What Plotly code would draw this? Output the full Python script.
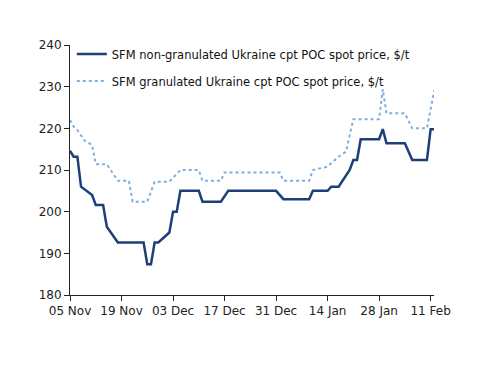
import plotly.graph_objects as go
import pandas as pd

start = pd.Timestamp("2018-11-05")

dark_days = [0, 1, 2, 3, 6, 7, 9, 10, 13, 20, 21, 22, 23, 24, 27, 28, 29, 30, 35, 36, 41, 43,
             56, 58, 65, 66, 70, 71, 73, 76, 77, 78, 79, 84, 85, 86, 91, 93, 97, 98, 99]
dark_vals = [214.6, 213.2, 213.2, 206, 204, 201.6, 201.6, 196.4, 192.6, 192.6, 187.4, 187.4,
             192.6, 192.6, 195, 200, 200, 205, 205, 202.4, 202.4, 205,
             205, 203, 203, 205, 205, 206, 206, 210, 212.4, 212.4, 217.4, 217.4, 219.8,
             216.4, 216.4, 212.4, 212.4, 219.8, 219.8]

light_days = [0, 1, 2, 4, 6, 7, 10, 13, 16, 17, 21, 23, 27, 29, 30, 35, 36, 41, 42,
              57, 58, 65, 66, 70, 73, 75, 77, 84, 85, 86, 91, 93, 97, 99]
light_vals = [222, 220.4, 219.6, 217, 216, 211.4, 211.4, 207.4, 207.4, 202.4, 202.4, 207.2,
              207.2, 209, 210, 210, 207.4, 207.4, 209.4,
              209.4, 207.4, 207.4, 210, 210.8, 213.2, 214.4, 222.2, 222.2, 229.4, 223.6,
              223.6, 220, 220, 229.2]

dark_dates = [start + pd.Timedelta(days=d) for d in dark_days]
light_dates = [start + pd.Timedelta(days=d) for d in light_days]

y_ticks = [180, 190, 200, 210, 220, 230, 240]

fig = go.Figure()
fig.add_trace(go.Scatter(
    x=dark_dates, y=dark_vals, mode="lines", legendgroup="a",
    name="SFM non-granulated Ukraine cpt POC spot price, $/t",
    line=dict(color="#1d3f7a", width=2.5)))
fig.add_trace(go.Scatter(
    x=light_dates, y=light_vals, mode="lines", legendgroup="b",
    name="SFM granulated Ukraine cpt POC spot price, $/t",
    line=dict(color="#7eaee2", width=2, dash="dot")))

axis_font = dict(family="DejaVu Sans", size=12, color="#222")
fig.update_layout(
    width=500, height=386,
    margin=dict(l=62, r=74, t=37, b=99),
    paper_bgcolor="white", plot_bgcolor="white",
    font=axis_font,
    showlegend=True,
    legend=dict(x=0.005, y=1.022, xanchor="left", yanchor="top",
                bgcolor="rgba(0,0,0,0)", itemwidth=30,
                font=dict(family="DejaVu Sans", size=11.5, color="#111"),
                tracegroupgap=8),
    xaxis=dict(
        type="date",
        range=[start, pd.Timestamp("2019-02-11 22:00")],
        tick0=start, dtick=14 * 86400000, tickformat="%d %b",
        showgrid=False, zeroline=False,
        showline=True, linecolor="#222", linewidth=1,
        ticks="outside", ticklen=5, tickcolor="#222"),
    yaxis=dict(
        range=[180, 240], tickvals=y_ticks,
        showgrid=False, zeroline=False,
        showline=True, linecolor="#222", linewidth=1,
        ticks="outside", ticklen=5, tickcolor="#222"),
)
fig.write_html("out.html")
